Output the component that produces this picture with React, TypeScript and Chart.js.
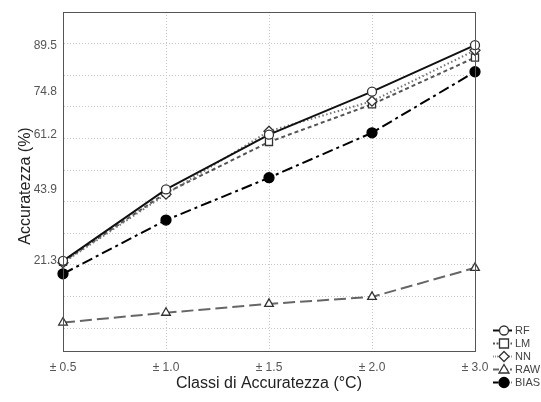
import React, { useEffect, useRef } from "react";
import { Chart, registerables } from "chart.js";

Chart.register(...registerables);

const categories = ["± 0.5", "± 1.0", "± 1.5", "± 2.0", "± 3.0"];
const rfValues = [21.3, 43.9, 61.2, 74.8, 89.5];
const lmValues = [21.0, 42.8, 58.9, 70.8, 85.6];
const nnValues = [20.7, 42.4, 62.3, 71.8, 87.9];
const rawValues = [1.8, 4.9, 7.7, 9.9, 19.1];
const biasValues = [17.2, 34.2, 47.6, 61.8, 81.1];
const yLabelValues = [21.3, 43.9, 61.2, 74.8, 89.5];
const yGridValues = [0, 10, 20, 30, 40, 50, 60, 70, 80, 90];

const FONT = "'Liberation Sans', Arial, sans-serif";

type LegendItem = {
  label: string;
  color: string;
  dash: number[];
  style: string;
  fill: string;
  radius: number;
};

const legendItems: LegendItem[] = [
  { label: "RF", color: "#111111", dash: [], style: "circle", fill: "#ffffff", radius: 4.5 },
  { label: "LM", color: "#555555", dash: [4, 3], style: "rect", fill: "#ffffff", radius: 5 },
  { label: "NN", color: "#777777", dash: [1.5, 2.5], style: "rectRot", fill: "#ffffff", radius: 5 },
  { label: "RAW", color: "#666666", dash: [12, 5], style: "triangle", fill: "#ffffff", radius: 5 },
  { label: "BIAS", color: "#000000", dash: [11, 4, 3, 4], style: "circle", fill: "#000000", radius: 5 },
];

function drawMarker(ctx: CanvasRenderingContext2D, style: string, x: number, y: number, r: number) {
  ctx.beginPath();
  if (style === "circle") {
    ctx.arc(x, y, r, 0, Math.PI * 2);
  } else if (style === "rect") {
    ctx.rect(x - r * 0.9, y - r * 0.9, r * 1.8, r * 1.8);
  } else if (style === "rectRot") {
    ctx.moveTo(x, y - r);
    ctx.lineTo(x + r, y);
    ctx.lineTo(x, y + r);
    ctx.lineTo(x - r, y);
    ctx.closePath();
  } else if (style === "triangle") {
    ctx.moveTo(x, y - r);
    ctx.lineTo(x + r, y + r * 0.7);
    ctx.lineTo(x - r, y + r * 0.7);
    ctx.closePath();
  }
  ctx.fill();
  ctx.stroke();
}

const framePlugin = {
  id: "framePlugin",
  afterDraw(chart: any) {
    const ctx: CanvasRenderingContext2D = chart.ctx;
    const a = chart.chartArea;
    ctx.save();
    ctx.strokeStyle = "#555555";
    ctx.lineWidth = 1;
    ctx.setLineDash([]);
    ctx.strokeRect(Math.round(a.left) + 0.5, Math.round(a.top) + 0.5, Math.round(a.right - a.left), Math.round(a.bottom - a.top));

    // axis titles
    ctx.fillStyle = "#222222";
    ctx.font = `16px ${FONT}`;
    ctx.textAlign = "center";
    ctx.textBaseline = "middle";
    ctx.fillText("Classi di Accuratezza (°C)", (a.left + a.right) / 2, 384);
    ctx.save();
    ctx.translate(26, 186);
    ctx.rotate(-Math.PI / 2);
    ctx.fillText("Accuratezza (%)", 0, 0);
    ctx.restore();

    // legend
    const x0 = 493;
    const x1 = 512;
    const cx = 504;
    const ys = [330.5, 343.5, 356.5, 369.5, 382.5];
    legendItems.forEach((it, i) => {
      const y = ys[i];
      ctx.strokeStyle = it.color;
      ctx.lineWidth = 2;
      ctx.setLineDash(it.dash.map((d) => d * 0.5));
      ctx.beginPath();
      ctx.moveTo(x0, y);
      ctx.lineTo(x1, y);
      ctx.stroke();
      ctx.setLineDash([]);
      ctx.lineWidth = 1.3;
      ctx.fillStyle = it.fill;
      ctx.strokeStyle = it.fill === "#000000" ? "#000000" : "#333333";
      drawMarker(ctx, it.style, cx, y, it.radius);
      ctx.fillStyle = "#444444";
      ctx.font = `11px ${FONT}`;
      ctx.textAlign = "left";
      ctx.textBaseline = "middle";
      ctx.fillText(it.label, 515, y);
    });
    ctx.restore();
  },
};

export default function App() {
  const ref = useRef<HTMLCanvasElement | null>(null);

  useEffect(() => {
    if (!ref.current) return;
    const mk = (label: string, data: number[], it: LegendItem) => ({
      label,
      data,
      borderColor: it.color,
      borderWidth: 2,
      borderDash: it.dash,
      pointStyle: it.style,
      pointRadius: it.radius,
      pointBackgroundColor: it.fill,
      pointBorderColor: it.fill === "#000000" ? "#000000" : "#333333",
      pointBorderWidth: 1.3,
      tension: 0,
      fill: false,
    });
    const chart = new Chart(ref.current, {
      type: "line",
      data: {
        labels: categories,
        datasets: [
          mk("RF", rfValues, legendItems[0]),
          mk("NN", nnValues, legendItems[2]),
          mk("LM", lmValues, legendItems[1]),
          mk("BIAS", biasValues, legendItems[4]),
          mk("RAW", rawValues, legendItems[3]),
        ],
      },
      options: {
        responsive: false,
        animation: false,
        layout: { padding: { left: 8, right: 66, top: 12, bottom: 8 } },
        plugins: {
          legend: { display: false },
          tooltip: { enabled: false },
        },
        scales: {
          x: {
            type: "category",
            offset: false,
            afterFit: (s: any) => {
              s.height = 43;
              s.paddingLeft = 0;
              s.paddingRight = 0;
            },
            grid: {
              display: true,
              drawTicks: false,
              color: "#c8c8c8",
              lineWidth: 1,
            },
            border: { display: true, color: "#555555", dash: [1, 2] },
            ticks: {
              padding: 9,
              color: "#555555",
              font: { family: FONT, size: 12 },
              maxRotation: 0,
              autoSkip: false,
            },
          },
          y: {
            type: "linear",
            min: -7.2,
            max: 100,
            afterFit: (s: any) => {
              s.width = 55;
              s.paddingTop = 0;
              s.paddingBottom = 0;
            },
            afterBuildTicks: (s: any) => {
              const vals = [...yGridValues, ...yLabelValues].sort((p, q) => p - q);
              s.ticks = vals.map((v) => ({ value: v }));
            },
            grid: {
              drawTicks: false,
              color: (c: any) =>
                c.tick && yLabelValues.includes(c.tick.value) ? "rgba(0,0,0,0)" : "#c8c8c8",
              lineWidth: 1,
            },
            border: { display: true, color: "#555555", dash: [1, 2] },
            ticks: {
              padding: 6,
              color: "#555555",
              font: { family: FONT, size: 12 },
              autoSkip: false,
              callback: (v: any) => (yLabelValues.includes(Number(v)) ? Number(v).toFixed(1) : ""),
            },
          },
        },
      },
      plugins: [framePlugin],
    } as any);
    return () => chart.destroy();
  }, []);

  return (
    <div style={{ position: "absolute", left: 0, top: 0, width: 541, height: 402 }}>
      <canvas ref={ref} width={541} height={402} />
    </div>
  );
}
